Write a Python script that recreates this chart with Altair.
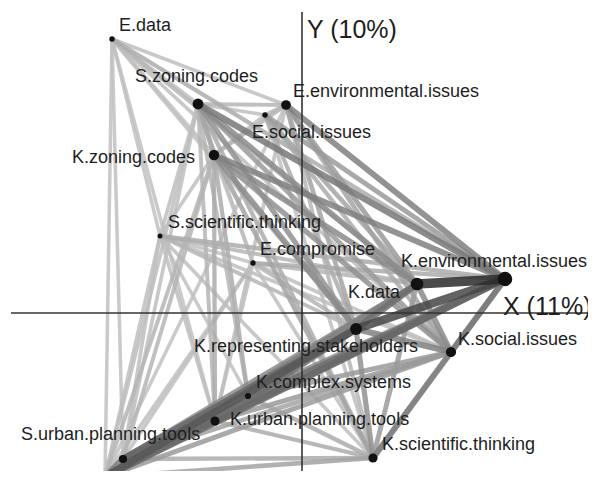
import altair as alt
import pandas as pd

# ---------------- data ----------------
node_names = [
    "E.data", "S.zoning.codes", "E.environmental.issues", "E.social.issues",
    "K.zoning.codes", "S.scientific.thinking", "E.compromise",
    "K.environmental.issues", "K.data", "K.representing.stakeholders",
    "K.social.issues", "K.complex.systems", "K.urban.planning.tools",
    "S.urban.planning.tools", "S.hidden", "K.scientific.thinking",
]
node_labels = [
    "E.data", "S.zoning.codes", "E.environmental.issues", "E.social.issues",
    "K.zoning.codes", "S.scientific.thinking", "E.compromise",
    "K.environmental.issues", "K.data", "K.representing.stakeholders",
    "K.social.issues", "K.complex.systems", "K.urban.planning.tools",
    "S.urban.planning.tools", "", "K.scientific.thinking",
]
node_x = [-1.90, -1.04, -0.16, -0.37, -0.88, -1.42, -0.49, 2.03, 1.15, 0.54,
          1.49, -0.54, -0.87, -1.79, -1.97, 0.71]
node_y = [2.74, 2.09, 2.08, 1.98, 1.58, 0.77, 0.50, 0.34, 0.29, -0.16,
          -0.39, -0.83, -1.08, -1.46, -1.64, -1.45]
node_weight = [0.14, 0.56, 0.45, 0.14, 0.52, 0.12, 0.14, 1.0, 0.77, 0.66,
               0.5, 0.18, 0.4, 0.32, 0.48, 0.4]

edges = [
    ("K.data", "K.environmental.issues", 1.0),
    ("K.representing.stakeholders", "K.environmental.issues", 0.8),
    ("K.representing.stakeholders", "K.data", 0.55),
    ("K.social.issues", "K.environmental.issues", 0.5),
    ("K.social.issues", "K.data", 0.4),
    ("K.social.issues", "K.representing.stakeholders", 0.45),
    ("K.scientific.thinking", "K.environmental.issues", 0.35),
    ("K.scientific.thinking", "K.social.issues", 0.45),
    ("K.scientific.thinking", "K.data", 0.3),
    ("K.scientific.thinking", "K.representing.stakeholders", 0.35),
    ("K.urban.planning.tools", "K.environmental.issues", 0.55),
    ("K.urban.planning.tools", "K.representing.stakeholders", 0.55),
    ("K.urban.planning.tools", "K.data", 0.4),
    ("K.urban.planning.tools", "K.social.issues", 0.3),
    ("K.urban.planning.tools", "K.scientific.thinking", 0.2),
    ("K.complex.systems", "K.environmental.issues", 0.4),
    ("K.complex.systems", "K.representing.stakeholders", 0.35),
    ("K.complex.systems", "K.data", 0.3),
    ("K.complex.systems", "K.social.issues", 0.3),
    ("K.complex.systems", "K.scientific.thinking", 0.2),
    ("K.complex.systems", "K.urban.planning.tools", 0.3),
    ("K.zoning.codes", "K.environmental.issues", 0.45),
    ("K.zoning.codes", "K.data", 0.4),
    ("K.zoning.codes", "K.representing.stakeholders", 0.4),
    ("K.zoning.codes", "K.social.issues", 0.35),
    ("K.zoning.codes", "K.scientific.thinking", 0.25),
    ("K.zoning.codes", "K.urban.planning.tools", 0.2),
    ("K.zoning.codes", "K.complex.systems", 0.2),
    ("S.hidden", "K.representing.stakeholders", 0.7),
    ("S.hidden", "K.environmental.issues", 0.6),
    ("S.hidden", "K.data", 0.45),
    ("S.hidden", "K.social.issues", 0.3),
    ("S.hidden", "K.scientific.thinking", 0.25),
    ("S.hidden", "K.urban.planning.tools", 0.5),
    ("S.hidden", "K.complex.systems", 0.3),
    ("S.hidden", "K.zoning.codes", 0.15),
    ("S.hidden", "S.urban.planning.tools", 0.5),
    ("S.urban.planning.tools", "K.representing.stakeholders", 0.6),
    ("S.urban.planning.tools", "K.environmental.issues", 0.55),
    ("S.urban.planning.tools", "K.data", 0.4),
    ("S.urban.planning.tools", "K.social.issues", 0.25),
    ("S.urban.planning.tools", "K.scientific.thinking", 0.2),
    ("S.urban.planning.tools", "K.urban.planning.tools", 0.5),
    ("S.urban.planning.tools", "K.complex.systems", 0.25),
    ("S.urban.planning.tools", "K.zoning.codes", 0.15),
    ("S.zoning.codes", "K.environmental.issues", 0.5),
    ("S.zoning.codes", "K.data", 0.4),
    ("S.zoning.codes", "K.representing.stakeholders", 0.35),
    ("S.zoning.codes", "K.social.issues", 0.3),
    ("S.zoning.codes", "K.scientific.thinking", 0.2),
    ("S.zoning.codes", "K.zoning.codes", 0.25),
    ("S.zoning.codes", "K.urban.planning.tools", 0.15),
    ("S.zoning.codes", "K.complex.systems", 0.15),
    ("S.zoning.codes", "S.hidden", 0.1),
    ("S.zoning.codes", "S.urban.planning.tools", 0.1),
    ("S.zoning.codes", "E.environmental.issues", 0.15),
    ("S.zoning.codes", "E.social.issues", 0.1),
    ("S.zoning.codes", "E.data", 0.1),
    ("S.zoning.codes", "S.scientific.thinking", 0.1),
    ("S.zoning.codes", "E.compromise", 0.1),
    ("E.environmental.issues", "K.environmental.issues", 0.45),
    ("E.environmental.issues", "K.data", 0.3),
    ("E.environmental.issues", "K.representing.stakeholders", 0.25),
    ("E.environmental.issues", "K.social.issues", 0.25),
    ("E.environmental.issues", "E.social.issues", 0.15),
    ("E.environmental.issues", "K.zoning.codes", 0.15),
    ("E.environmental.issues", "E.data", 0.1),
    ("E.environmental.issues", "K.scientific.thinking", 0.15),
    ("E.environmental.issues", "K.urban.planning.tools", 0.1),
    ("E.environmental.issues", "S.hidden", 0.08),
    ("E.social.issues", "K.environmental.issues", 0.3),
    ("E.social.issues", "K.data", 0.25),
    ("E.social.issues", "K.representing.stakeholders", 0.2),
    ("E.social.issues", "K.social.issues", 0.2),
    ("E.social.issues", "K.zoning.codes", 0.1),
    ("E.social.issues", "K.scientific.thinking", 0.1),
    ("E.data", "K.environmental.issues", 0.2),
    ("E.data", "K.data", 0.15),
    ("E.data", "K.representing.stakeholders", 0.1),
    ("E.data", "K.social.issues", 0.1),
    ("E.data", "S.hidden", 0.08),
    ("E.data", "S.urban.planning.tools", 0.08),
    ("E.data", "S.scientific.thinking", 0.08),
    ("E.data", "K.zoning.codes", 0.08),
    ("E.data", "K.urban.planning.tools", 0.08),
    ("S.scientific.thinking", "K.environmental.issues", 0.2),
    ("S.scientific.thinking", "K.data", 0.15),
    ("S.scientific.thinking", "K.representing.stakeholders", 0.15),
    ("S.scientific.thinking", "K.social.issues", 0.1),
    ("S.scientific.thinking", "K.scientific.thinking", 0.1),
    ("S.scientific.thinking", "K.urban.planning.tools", 0.1),
    ("S.scientific.thinking", "S.hidden", 0.1),
    ("S.scientific.thinking", "S.urban.planning.tools", 0.1),
    ("S.scientific.thinking", "K.zoning.codes", 0.1),
    ("S.scientific.thinking", "K.complex.systems", 0.08),
    ("E.compromise", "K.environmental.issues", 0.2),
    ("E.compromise", "K.data", 0.15),
    ("E.compromise", "K.representing.stakeholders", 0.15),
    ("E.compromise", "K.social.issues", 0.1),
    ("E.compromise", "K.scientific.thinking", 0.1),
    ("E.compromise", "K.urban.planning.tools", 0.1),
    ("E.compromise", "S.hidden", 0.1),
    ("E.compromise", "S.urban.planning.tools", 0.1),
    ("E.compromise", "K.zoning.codes", 0.1),
    ("E.compromise", "S.scientific.thinking", 0.08),
]

axis_titles = ["Y (10%)", "X (11%)"]

# ---------------- layout (pixels) ----------------
W, H = 580, 463
PX = 100.0                     # pixels per data unit
ORIGIN = (294, 305)            # origin inside the plot area
x_dom = [-ORIGIN[0] / PX, (W - ORIGIN[0]) / PX]
y_dom = [-(H - ORIGIN[1]) / PX, ORIGIN[1] / PX]

# label offsets (dx, dy in px relative to node; alignment)
label_layout = {
    "E.data": (7, -8, "left"),
    "S.zoning.codes": (-63, -22, "left"),
    "E.environmental.issues": (7, -8, "left"),
    "E.social.issues": (-13, 23, "left"),
    "K.zoning.codes": (-19, 8, "right"),
    "S.scientific.thinking": (8, -8, "left"),
    "E.compromise": (7, -8, "left"),
    "K.environmental.issues": (82, -12, "right"),
    "K.data": (-17, 14, "right"),
    "K.representing.stakeholders": (-50, 23, "center"),
    "K.social.issues": (7, -7, "left"),
    "K.complex.systems": (8, -8, "left"),
    "K.urban.planning.tools": (15, 4, "left"),
    "S.urban.planning.tools": (-102, -19, "left"),
    "K.scientific.thinking": (9, -8, "left"),
}

pos = {n: (x, y) for n, x, y in zip(node_names, node_x, node_y)}

edge_df = pd.DataFrame(
    [{"x": pos[a][0], "y": pos[a][1], "x2": pos[b][0], "y2": pos[b][1], "w": w}
     for a, b, w in edges]
).sort_values("w", kind="stable").reset_index(drop=True)
edge_df["order"] = range(len(edge_df))

node_df = pd.DataFrame({"name": node_names, "label": node_labels,
                        "x": node_x, "y": node_y, "w": node_weight})

lab_rows = []
for n, lab, x, y in zip(node_names, node_labels, node_x, node_y):
    if not lab:
        continue
    dx, dy, al = label_layout[n]
    lab_rows.append({"label": lab, "lx": x + dx / PX, "ly": y - dy / PX, "align": al})
lab_df = pd.DataFrame(lab_rows)

xs = alt.Scale(domain=x_dom, nice=False, zero=False)
ys = alt.Scale(domain=y_dom, nice=False, zero=False)

base_edges = alt.Chart(edge_df).mark_rule(strokeCap="butt", opacity=0.85).encode(
    x=alt.X("x:Q", scale=xs, axis=None),
    y=alt.Y("y:Q", scale=ys, axis=None),
    x2="x2:Q", y2="y2:Q",
    color=alt.Color("w:Q", scale=alt.Scale(domain=[0, 1], range=["#d0d0d0", "#2a2a2a"]), legend=None),
    strokeWidth=alt.StrokeWidth("w:Q", scale=alt.Scale(domain=[0, 1], range=[3, 9.5]), legend=None),
    order="order:Q",
)

axes_df = pd.DataFrame({
    "x": [0.0, (11 - 8 - ORIGIN[0]) / PX],
    "x2": [0.0, x_dom[1]],
    "y": [y_dom[0], 0.0],
    "y2": [(ORIGIN[1] - 4) / PX, 0.0],
})
axes_lines = alt.Chart(axes_df).mark_rule(color="#333333", strokeWidth=1.6).encode(
    x=alt.X("x:Q", scale=xs, axis=None), y=alt.Y("y:Q", scale=ys, axis=None),
    x2="x2:Q", y2="y2:Q",
)

nodes = alt.Chart(node_df).mark_circle(color="#111111", opacity=1).encode(
    x=alt.X("x:Q", scale=xs, axis=None), y=alt.Y("y:Q", scale=ys, axis=None),
    size=alt.Size("w:Q", scale=alt.Scale(domain=[0, 1], range=[0, 210]), legend=None),
)

text_layers = []
for al in ["left", "right", "center"]:
    text_layers.append(
        alt.Chart(lab_df).transform_filter(alt.datum.align == al).mark_text(
            align=al, baseline="alphabetic", font="Liberation Sans",
            fontSize=18, color="#1e1e1e",
        ).encode(
            x=alt.X("lx:Q", scale=xs, axis=None), y=alt.Y("ly:Q", scale=ys, axis=None),
            text="label:N",
        )
    )

title_df = pd.DataFrame({
    "t": axis_titles,
    "x": [5 / PX, 201 / PX],
    "y": [(313 - 38) / PX, (313 - 315) / PX],
})
titles = alt.Chart(title_df).mark_text(
    align="left", baseline="alphabetic", font="Liberation Sans", fontSize=25, color="#1e1e1e",
).encode(
    x=alt.X("x:Q", scale=xs, axis=None), y=alt.Y("y:Q", scale=ys, axis=None), text="t:N",
)

chart = alt.layer(base_edges, axes_lines, nodes, *text_layers, titles).properties(
    width=W, height=H, padding=0, autosize=alt.AutoSizeParams(type="none"),
).configure_view(stroke=None)

chart.save("out.html", embed_options={"renderer": "svg", "actions": False})
